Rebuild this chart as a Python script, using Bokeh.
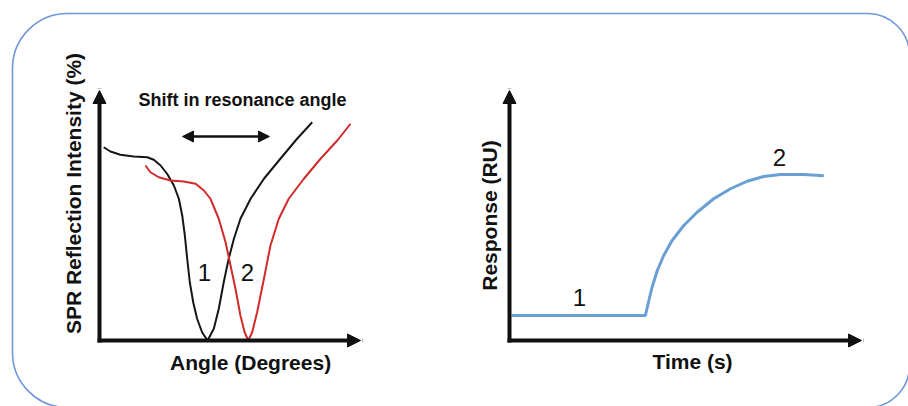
from bokeh.plotting import figure
from bokeh.models import Range1d, Arrow, NormalHead, Label, BoxAnnotation
from bokeh.embed import file_html
from bokeh.resources import INLINE
import math

# ---------------- data ----------------
# Left panel: SPR reflection intensity (%) vs angle (arbitrary units 0..10)
angle_1 = [0.16, 0.42, 0.80, 1.31, 1.83, 2.08, 2.34, 2.59, 2.85, 3.04, 3.17, 3.27, 3.36,
           3.46, 3.59, 3.74, 3.93, 4.14, 4.38, 4.57, 4.76, 4.95, 5.15, 5.40, 5.79, 6.30,
           6.93, 7.57, 8.15]
intensity_1 = [77.3, 75.6, 74.3, 73.6, 73.3, 72.3, 70.0, 66.7, 62.0, 56.7, 50.0, 42.0, 32.7,
               23.3, 15.3, 8.7, 3.3, 0.0, 4.7, 12.7, 23.3, 32.7, 40.7, 48.7, 56.7, 64.7,
               72.7, 80.7, 87.3]
angle_2 = [1.76, 1.95, 2.27, 2.72, 3.23, 3.68, 4.00, 4.25, 4.57, 4.83, 5.02, 5.21, 5.40,
           5.56, 5.70, 5.85, 6.04, 6.30, 6.55, 6.87, 7.25, 7.83, 8.47, 9.11, 9.62]
intensity_2 = [70.0, 67.3, 65.3, 64.0, 63.6, 62.7, 60.0, 56.7, 48.7, 39.3, 30.0, 20.7, 10.0,
               3.3, 0.0, 3.3, 11.3, 24.7, 38.0, 48.7, 56.7, 64.7, 72.7, 80.0, 86.7]
shift_from, shift_to = 3.18, 6.51

# Right panel: sensorgram, response (RU) vs time
time_s = [0.06, 3.86, 3.96, 4.05, 4.20, 4.38, 4.62, 4.95, 5.33, 5.80, 6.28, 6.75, 7.22,
          7.70, 8.36, 8.93]
response = [10.0, 10.0, 16.0, 21.3, 28.0, 34.0, 40.0, 46.0, 51.3, 56.7, 60.7, 63.7, 65.6,
            66.4, 66.4, 65.9]

W, H = 908, 406


def frange(d0, d1, p0, p1, total):
    s = (d1 - d0) / (p1 - p0)
    start = d0 - p0 * s
    return Range1d(start, start + total * s)


p = figure(width=W, height=H, output_backend="svg", toolbar_location=None,
           x_range=Range1d(0, W), y_range=Range1d(0, H), min_border=0)
p.axis.visible = False
p.grid.visible = False
p.outline_line_color = None
p.background_fill_color = "white"
p.border_fill_color = "white"

# panel ranges: axis origin and arrow tips
p.extra_x_ranges = {"ax": frange(0, 10, 99, 360, W), "tx": frange(0, 10, 509, 861, W)}
p.extra_y_ranges = {"ay": frange(0, 100, H - 340, H - 90, H)}

# rounded frame
p.add_layout(BoxAnnotation(left=12, right=909, top=H - 13, bottom=H - 407,
                           fill_alpha=0, line_color="#6e97dc", line_alpha=1.0, line_width=1.6,
                           border_radius=dict(top_left=55, top_right=42,
                                              bottom_right=42, bottom_left=55)))

INK = "#111111"
SANS = "Liberation Sans"


def axis_arrows(xr):
    for xs, ys, xe, ye in [(0, 0, 10, 0), (0, 0, 0, 100)]:
        p.add_layout(Arrow(end=NormalHead(size=13, fill_color=INK, line_color=INK, line_width=1),
                           x_start=xs, y_start=ys, x_end=xe, y_end=ye,
                           line_width=4, line_color=INK, line_cap="square",
                           x_range_name=xr, y_range_name="ay"))


# ---------- left panel ----------
axis_arrows("ax")
p.line(angle_1, intensity_1, line_color="#161616", line_width=2, line_join="round",
       x_range_name="ax", y_range_name="ay")
p.line(angle_2, intensity_2, line_color="#d22a2a", line_width=2, line_join="round",
       x_range_name="ax", y_range_name="ay")
p.add_layout(Arrow(start=NormalHead(size=11, fill_color=INK, line_color=INK),
                   end=NormalHead(size=11, fill_color=INK, line_color=INK),
                   x_start=shift_from, y_start=81.6, x_end=shift_to, y_end=81.6,
                   line_width=2.5, line_color=INK,
                   x_range_name="ax", y_range_name="ay"))


def lab(txt, x, y, xr, size, bold=False, angle=0):
    p.add_layout(Label(x=x, y=y, text=txt, x_range_name=xr, y_range_name="ay",
                       text_font=SANS, text_font_size=f"{size}px",
                       text_font_style="bold" if bold else "normal",
                       text_color=INK, text_align="center", text_baseline="middle",
                       angle=angle))


lab("Shift in resonance angle", 5.48, 96.4, "ax", 18, bold=True)
lab("1", 4.02, 27.2, "ax", 24)
lab("2", 5.67, 27.2, "ax", 24)
lab("Angle (Degrees)", 5.79, -8.8, "ax", 21, bold=True)
lab("SPR Reflection Intensity (%)", -1.0, 58.8, "ax", 21, bold=True, angle=math.pi / 2)

# ---------- right panel ----------
axis_arrows("tx")
p.line(time_s, response, line_color="#6a9fd4", line_width=3, line_join="round",
       x_range_name="tx", y_range_name="ay")
lab("1", 1.99, 17.2, "tx", 24)
lab("2", 7.67, 73.2, "tx", 24)
lab("Time (s)", 5.2, -8.4, "tx", 21, bold=True)
lab("Response (RU)", -0.57, 50, "tx", 21, bold=True, angle=math.pi / 2)

open("out.html", "w").write(file_html(p, INLINE))
